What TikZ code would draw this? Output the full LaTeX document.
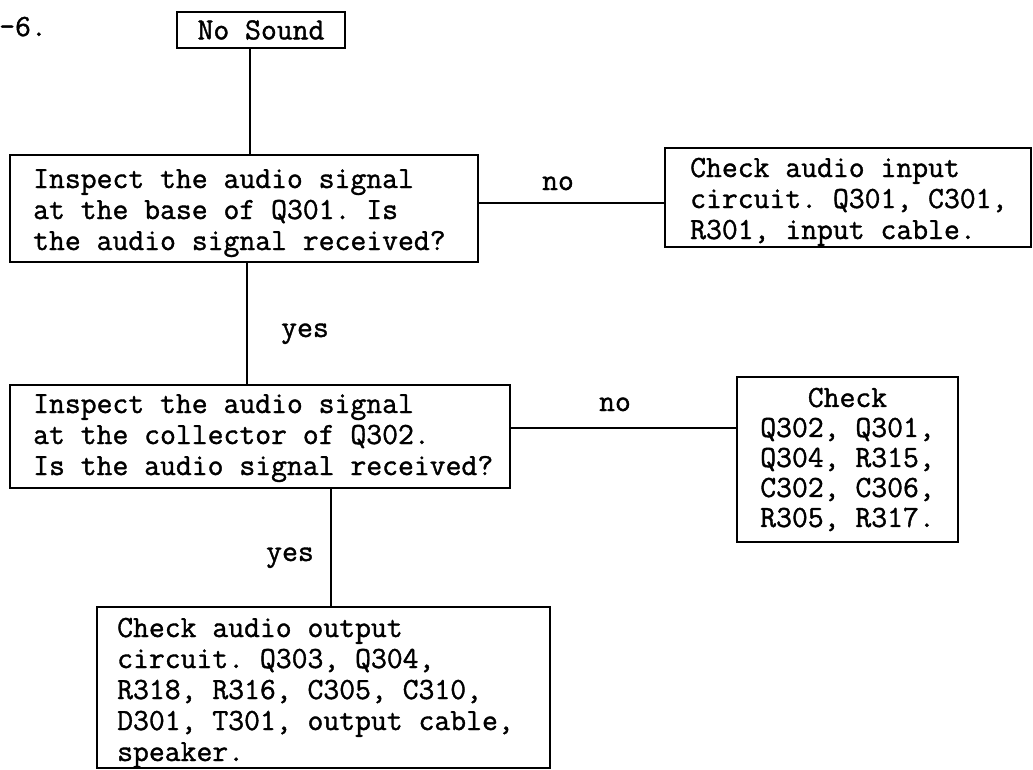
\documentclass[tikz,border=0pt]{standalone}
\usepackage{fontspec}
\newfontfamily\tw[FakeBold=1.2]{Latin Modern Mono}
\frenchspacing
\begin{document}
\begin{tikzpicture}[x=1pt,y=-1pt,
  box/.style={draw, line width=1.3pt, outer sep=0pt, inner sep=0pt, anchor=north west},
  cbox/.style={draw, line width=1.3pt, outer sep=0pt, inner sep=0pt, align=center,
    font=\tw\fontsize{30.8}{30}\selectfont},
  txt/.style={font=\tw\fontsize{30.8}{31}\selectfont, inner sep=0pt, align=left, anchor=base west},
  lab/.style={font=\tw\fontsize{30.8}{31}\selectfont, inner sep=0pt, anchor=base},
  conn/.style={line width=1.3pt}]
\useasboundingbox (0,0) rectangle (1033,769);

\node[lab, anchor=base west] (fig) at (-1,36) {-6.};

\node[cbox, minimum width=168, minimum height=36] (ns) at (261,30) {No Sound};

% text nodes: base anchor is the baseline of the last line
\node[box, minimum width=468, minimum height=107] (b1) at (10,155) {};
\node[txt] (t1) at (33,250) {Inspect the audio signal\\at the base of Q301. Is\\the audio signal received?};

\node[box, minimum width=366, minimum height=99] (b2) at (665,148) {};
\node[txt] (t2) at (690,239) {Check audio input\\circuit. Q301, C301,\\R301, input cable.};

\node[box, minimum width=500, minimum height=103] (b3) at (10,385) {};
\node[txt] (t3) at (33,475) {Inspect the audio signal\\at the collector of Q302.\\Is the audio signal received?};

\node[cbox, minimum width=221, minimum height=165] (b4) at (847.5,459.5) {Check\\Q302, Q301,\\Q304, R315,\\C302, C306,\\R305, R317.};

\node[box, minimum width=453, minimum height=161] (b5) at (97,607) {};
\node[txt] (t5) at (117,761) {Check audio output\\circuit. Q303, Q304,\\R318, R316, C305, C310,\\D301, T301, output cable,\\speaker.};

\coordinate (x1) at (250,0);
\coordinate (x2) at (247,0);
\coordinate (x3) at (331,0);
\coordinate (y1) at (0,203);
\coordinate (y2) at (0,428);

\draw[conn] (ns.south -| x1) -- (b1.north -| x1);
\draw[conn] (b1.south -| x2) -- (b3.north -| x2);
\draw[conn] (b3.south -| x3) -- (b5.north -| x3);
\draw[conn] (b1.east |- y1) -- (b2.west |- y1);
\draw[conn] (b3.east |- y2) -- (b4.west |- y2);

\node[lab] (no1) at (558,190) {no};
\node[lab] (no2) at (615,411) {no};
\node[lab] (yes1) at (305,337) {yes};
\node[lab] (yes2) at (290,561) {yes};
\end{tikzpicture}
\end{document}
